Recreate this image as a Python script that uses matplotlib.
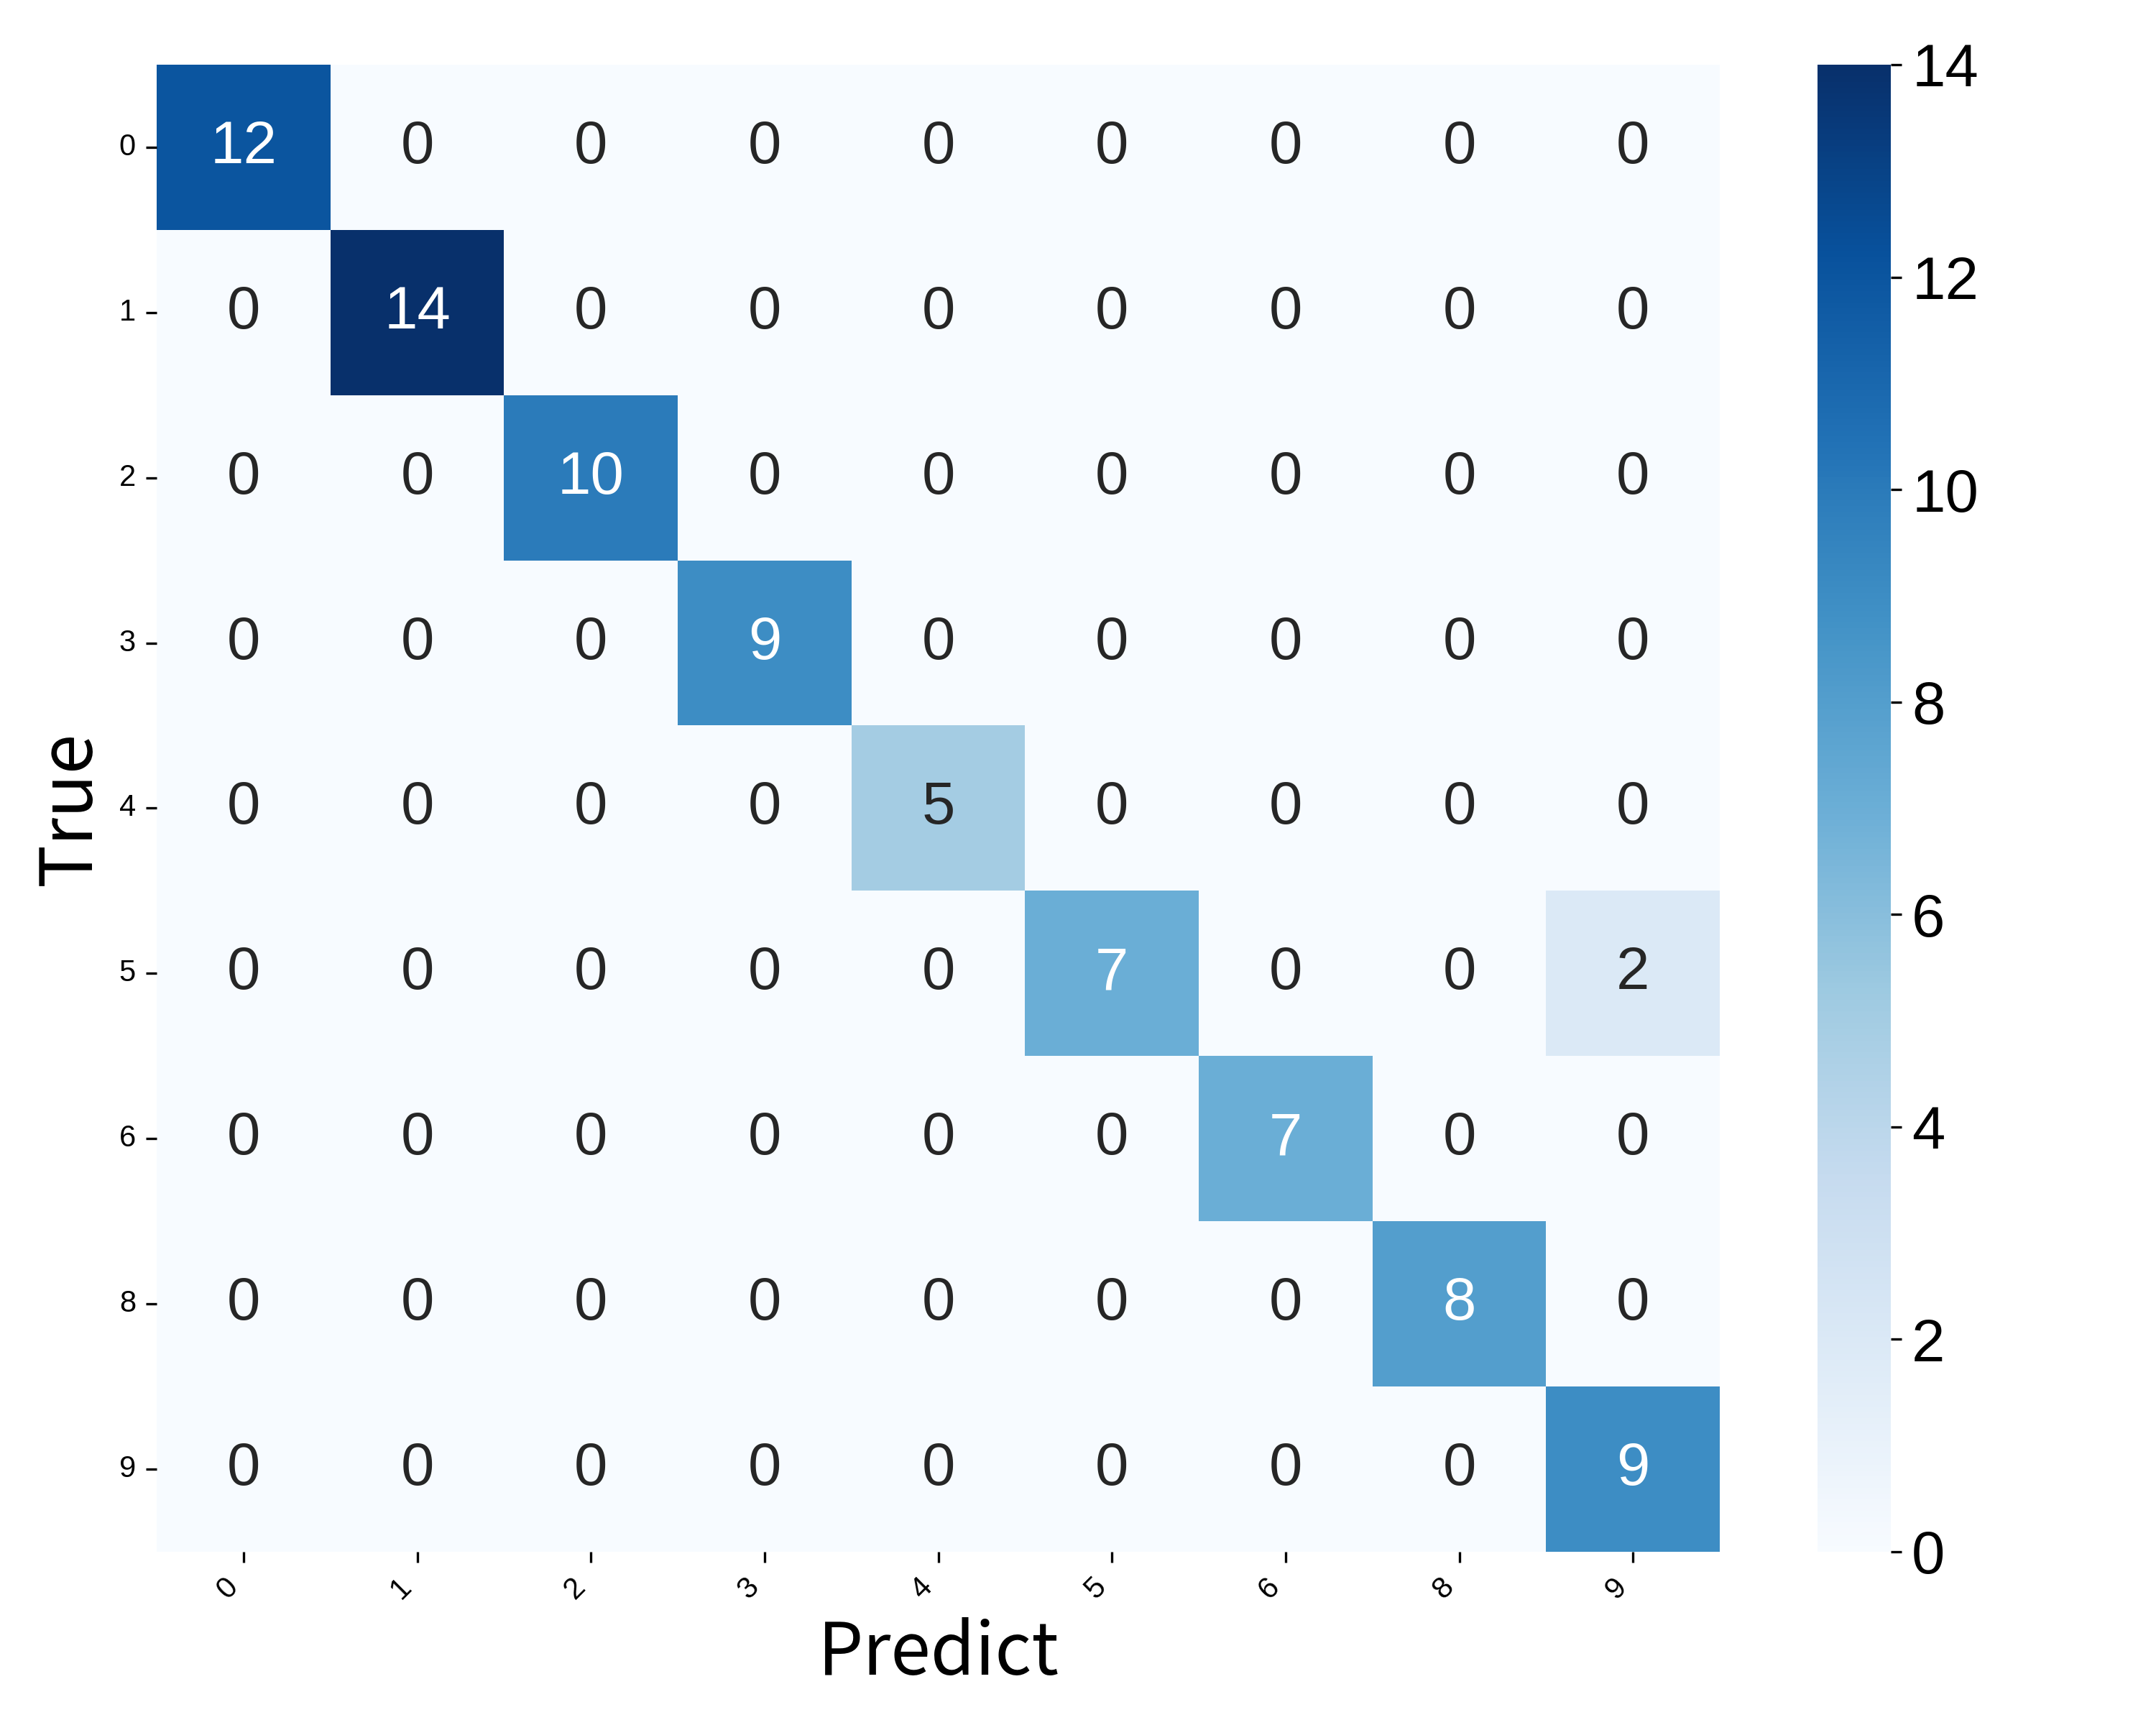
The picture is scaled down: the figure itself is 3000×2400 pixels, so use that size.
import numpy as np
import matplotlib
matplotlib.use("Agg")
import matplotlib.pyplot as plt
import seaborn as sns

labels = ["0", "1", "2", "3", "4", "5", "6", "8", "9"]
cm = np.array([
    [12, 0, 0, 0, 0, 0, 0, 0, 0],
    [0, 14, 0, 0, 0, 0, 0, 0, 0],
    [0, 0, 10, 0, 0, 0, 0, 0, 0],
    [0, 0, 0, 9, 0, 0, 0, 0, 0],
    [0, 0, 0, 0, 5, 0, 0, 0, 0],
    [0, 0, 0, 0, 0, 7, 0, 0, 2],
    [0, 0, 0, 0, 0, 0, 7, 0, 0],
    [0, 0, 0, 0, 0, 0, 0, 8, 0],
    [0, 0, 0, 0, 0, 0, 0, 0, 9],
])

plt.rcParams['font.family'] = ['Liberation Sans', 'DejaVu Sans']

fig = plt.figure(figsize=(10, 8), dpi=300)
ax = fig.add_axes([0.0727, 0.1005, 0.725, 0.862])
cax = fig.add_axes([0.843, 0.1005, 0.034, 0.862])

sns.heatmap(cm, annot=True, fmt="d", cmap="Blues", ax=ax, cbar_ax=cax,
            xticklabels=labels, yticklabels=labels,
            annot_kws={"size": 20})

ax.set_xlabel("Predict", fontsize=24, family=['Noto Sans CJK SC', 'DejaVu Sans'])
ax.set_ylabel("True", fontsize=24, family=['Noto Sans CJK SC', 'DejaVu Sans'])
plt.setp(ax.get_xticklabels(), rotation=45, ha="right", fontsize=10)
plt.setp(ax.get_yticklabels(), rotation=0, fontsize=10)
cax.tick_params(labelsize=20)

plt.savefig("out.png", dpi=300)
